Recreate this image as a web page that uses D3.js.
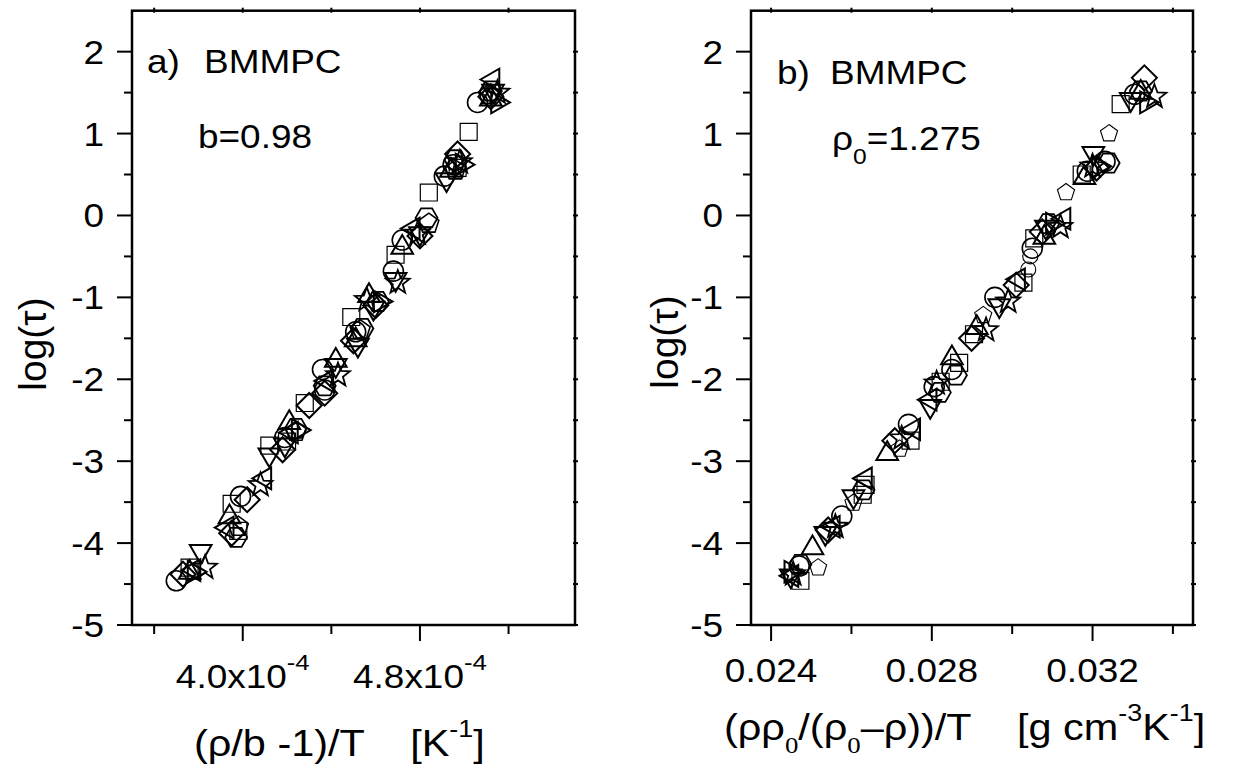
<!DOCTYPE html>
<html><head><meta charset="utf-8">
<script src="https://cdn.jsdelivr.net/npm/d3@7"></script>
<style>
body{margin:0;background:#fff}
svg{display:block}
text{font-family:"Liberation Sans",Arial,sans-serif;fill:#000;white-space:pre}
</style>
</head><body>
<svg id="c" width="1236" height="778"></svg>
<script>
// ---------- data ----------
const yMajor = [-5,-4,-3,-2,-1,0,1,2];
const yMinor = [-4.5,-3.5,-2.5,-1.5,-0.5,0.5,1.5];
const xMajorA = [4.0e-4, 4.8e-4];
const xMinorA = [3.6e-4, 4.4e-4, 5.2e-4];
const xLabelsA = ["4.0x10", "4.8x10"];
const xMajorB = [0.024, 0.028, 0.032];
const xMinorB = [0.026, 0.030, 0.034];
const xLabelsB = ["0.024", "0.028", "0.032"];

// panel a: x = (rho/b - 1)/T, y = log(tau)
const circleA   = [[3.70e-4,-4.46],[3.99e-4,-3.43],[4.19e-4,-2.71],[4.37e-4,-2.13],[4.36e-4,-1.88],[4.51e-4,-1.42],[4.68e-4,-0.68],[4.72e-4,-0.30],[4.91e-4,0.48],[4.95e-4,0.62],[5.06e-4,1.38]];
const squareA   = [[3.76e-4,-4.30],[3.95e-4,-3.52],[3.98e-4,-3.85],[4.12e-4,-2.81],[4.20e-4,-2.76],[4.28e-4,-2.29],[4.49e-4,-1.24],[4.69e-4,-0.48],[4.84e-4,0.28],[4.97e-4,0.58],[5.02e-4,1.02]];
const triUpA    = [[3.76e-4,-4.36],[3.94e-4,-3.68],[4.21e-4,-2.53],[4.42e-4,-1.77],[4.51e-4,-1.52],[4.57e-4,-0.98],[4.72e-4,-0.39],[4.94e-4,0.55],[5.12e-4,1.42]];
const triDownA  = [[3.81e-4,-4.10],[4.12e-4,-2.92],[4.19e-4,-2.80],[4.42e-4,-1.83],[4.52e-4,-1.58],[4.59e-4,-1.13],[4.69e-4,-0.78],[4.80e-4,-0.22],[4.92e-4,0.44],[5.13e-4,1.52]];
const diamondA  = [[3.73e-4,-4.38],[3.95e-4,-3.88],[4.02e-4,-3.47],[4.18e-4,-2.86],[4.30e-4,-2.32],[4.37e-4,-2.17],[4.50e-4,-1.53],[4.60e-4,-1.10],[4.80e-4,-0.25],[4.97e-4,0.75],[5.12e-4,1.45]];
const triLeftA  = [[3.78e-4,-4.33],[3.93e-4,-3.81],[4.10e-4,-3.21],[4.22e-4,-2.65],[4.38e-4,-2.02],[4.77e-4,-0.16],[5.13e-4,1.66]];
const triRightA = [[3.78e-4,-4.35],[4.25e-4,-2.62],[4.62e-4,-1.05],[4.99e-4,0.62],[5.15e-4,1.38]];
const pentagonA = [[3.98e-4,-3.80],[4.24e-4,-2.64],[4.53e-4,-1.40],[4.84e-4,-0.10],[4.96e-4,0.55],[5.11e-4,1.47]];
const hexagonA  = [[3.97e-4,-3.93],[4.24e-4,-2.60],[4.37e-4,-2.08],[4.54e-4,-1.38],[4.61e-4,-1.05],[4.83e-4,-0.03],[4.96e-4,0.68],[5.12e-4,1.52]];
const starA     = [[3.83e-4,-4.30],[4.08e-4,-3.29],[4.43e-4,-1.95],[4.56e-4,-1.03],[4.70e-4,-0.82],[4.79e-4,-0.22],[4.98e-4,0.65],[5.15e-4,1.50]];

// panel b: x = (rho rho0/(rho0-rho))/T, y = log(tau)
const circleB      = [[0.02470,-4.28],[0.02576,-3.67],[0.02742,-2.55],[0.02806,-2.09],[0.02850,-1.88],[0.02957,-1.00],[0.03050,-0.40],[0.03187,0.54],[0.03231,0.66],[0.03305,1.48]];
const smallCircleB = [[0.03040,-0.66],[0.03045,-0.50]];
const squareB      = [[0.02473,-4.46],[0.02635,-3.29],[0.02628,-3.41],[0.02747,-2.75],[0.02822,-2.03],[0.02868,-1.80],[0.02905,-1.45],[0.03028,-0.82],[0.03055,-0.28],[0.03173,0.50],[0.03270,1.36]];
const triUpB       = [[0.02503,-4.06],[0.02689,-2.91],[0.02850,-1.74],[0.02912,-1.37],[0.03080,-0.27],[0.03180,0.46],[0.03320,1.50]];
const triDownB     = [[0.02449,-4.40],[0.02535,-3.88],[0.02605,-3.43],[0.02796,-2.33],[0.02968,-1.10],[0.03084,-0.14],[0.03202,0.76],[0.03295,1.42]];
const diamondB     = [[0.02542,-3.84],[0.02708,-2.75],[0.02899,-1.50],[0.03010,-0.85],[0.03075,-0.20],[0.03210,0.58],[0.03329,1.68]];
const triLeftB     = [[0.02452,-4.40],[0.02555,-3.80],[0.02635,-3.21],[0.02755,-2.61],[0.02796,-2.25],[0.03016,-0.78],[0.03129,-0.04]];
const triRightB    = [[0.02449,-4.35],[0.03100,-0.10],[0.03215,0.60],[0.03334,1.38]];
const pentagonB    = [[0.02517,-4.30],[0.02605,-3.51],[0.02720,-2.85],[0.02928,-1.22],[0.03134,0.28],[0.03241,1.00]];
const hexagonB     = [[0.02473,-4.26],[0.02630,-3.35],[0.02820,-2.16],[0.02860,-1.95],[0.03090,-0.10],[0.03240,0.64],[0.03320,1.52]];
const starB        = [[0.02455,-4.38],[0.02560,-3.80],[0.02725,-2.72],[0.02812,-2.05],[0.02935,-1.40],[0.02990,-1.05],[0.03120,-0.14],[0.03200,0.60],[0.03354,1.45]];

// ---------- drawing ----------
const svg = d3.select("#c");
const SX = 1.12; // horizontal stretch of the lettering
const FS = 33;   // tick labels / annotations
const FT = 37;   // axis titles

const yTop = 10.7, yBottom = 625;
const y = d3.scaleLinear().domain([-5, 2.5]).range([yBottom, yTop]);
const xA = d3.scaleLinear().domain([3.5e-4, 5.5e-4]).range([132, 575]);
const xB = d3.scaleLinear().domain([0.0235, 0.0345]).range([751, 1193]);

function poly(n, R, a0) {
  const p = [];
  for (let i = 0; i < n; i++) {
    const a = a0 + i * 2 * Math.PI / n;
    p.push([R * Math.cos(a), R * Math.sin(a)]);
  }
  return "M" + p.map(q => q[0].toFixed(2) + "," + q[1].toFixed(2)).join("L") + "Z";
}
function starPath(Ro, Ri) {
  const p = [];
  for (let i = 0; i < 10; i++) {
    const a = -Math.PI / 2 + i * Math.PI / 5;
    const r = i % 2 ? Ri : Ro;
    p.push([r * Math.cos(a), r * Math.sin(a)]);
  }
  return "M" + p.map(q => q[0].toFixed(2) + "," + q[1].toFixed(2)).join("L") + "Z";
}
function circ(r) { return `M${r},0A${r},${r} 0 1,1 ${-r},0A${r},${r} 0 1,1 ${r},0Z`; }
const D = Math.PI / 180;
const shapes = {
  circle: circ(10),
  smallCircle: circ(7.5),
  square: poly(4, 12, 45 * D),
  triUp: poly(3, 12.5, -90 * D),
  triDown: poly(3, 12.5, 90 * D),
  triLeft: poly(3, 12.5, 180 * D),
  triRight: poly(3, 12.5, 0),
  diamond: poly(4, 12.5, -90 * D),
  pentagon: poly(5, 10.5, -90 * D),
  smallPentagon: poly(5, 9, -90 * D),
  hexagon: poly(6, 11, 0),
  star: starPath(12.5, 5.2)
};

function stext(parent, x, yy, anchor, size, build, rot) {
  const g = parent.append("g").attr("transform", `translate(${x},${yy})` + (rot ? ` rotate(${rot})` : ""));
  const t = g.append("text").attr("transform", `scale(${rot ? 1 : SX},1)`)
    .attr("text-anchor", anchor).attr("font-size", size);
  build(t);
  return t;
}

function panel(x, xMajor, xMinor, xLabels, supLabel, series, tickLabelBase) {
  const g = svg.append("g");
  const [x0, x1] = x.range();
  const tk = g.append("g").attr("stroke", "#000").attr("stroke-width", 2);
  yMajor.forEach(v => {
    tk.append("line").attr("x1", x0 - 15).attr("x2", x0).attr("y1", y(v)).attr("y2", y(v));
    tk.append("line").attr("x1", x1 - 2).attr("x2", x1 + 3).attr("y1", y(v)).attr("y2", y(v));
  });
  yMinor.forEach(v => {
    tk.append("line").attr("x1", x0 - 8).attr("x2", x0).attr("y1", y(v)).attr("y2", y(v));
    tk.append("line").attr("x1", x1 - 2).attr("x2", x1 + 3).attr("y1", y(v)).attr("y2", y(v));
  });
  xMajor.forEach(v => {
    tk.append("line").attr("x1", x(v)).attr("x2", x(v)).attr("y1", yBottom).attr("y2", yBottom + 16);
    tk.append("line").attr("x1", x(v)).attr("x2", x(v)).attr("y1", yTop - 3).attr("y2", yTop + 2);
  });
  xMinor.forEach(v => {
    tk.append("line").attr("x1", x(v)).attr("x2", x(v)).attr("y1", yBottom).attr("y2", yBottom + 9);
    tk.append("line").attr("x1", x(v)).attr("x2", x(v)).attr("y1", yTop - 3).attr("y2", yTop + 2);
  });
  g.append("rect").attr("x", x0).attr("y", yTop).attr("width", x1 - x0).attr("height", yBottom - yTop)
    .attr("fill", "none").attr("stroke", "#000").attr("stroke-width", 2.5);
  yMajor.forEach(v => {
    stext(g, x0 - 28, y(v) + 12, "end", FS, t => t.text(v < 0 ? "-" + Math.abs(v) : String(v)));
  });
  xMajor.forEach((v, i) => {
    stext(g, x(v), tickLabelBase, "middle", FS, t => {
      t.append("tspan").text(xLabels[i]);
      if (supLabel) t.append("tspan").attr("font-size", 23).attr("dy", -18).text(supLabel);
    });
  });
  const mk = g.append("g").attr("fill", "none").attr("stroke", "#000");
  series.forEach(s => {
    mk.selectAll(null).data(s.data).join("path")
      .attr("d", shapes[s.shape])
      .attr("stroke-width", s.sw)
      .attr("transform", d => `translate(${x(d[0])},${y(d[1])})`);
  });
  return g;
}

const seriesA = [
  {shape: "square", data: squareA, sw: 1.2},
  {shape: "pentagon", data: pentagonA, sw: 1.6},
  {shape: "hexagon", data: hexagonA, sw: 1.8},
  {shape: "circle", data: circleA, sw: 1.6},
  {shape: "triUp", data: triUpA, sw: 2},
  {shape: "triDown", data: triDownA, sw: 2},
  {shape: "diamond", data: diamondA, sw: 2},
  {shape: "triLeft", data: triLeftA, sw: 2},
  {shape: "triRight", data: triRightA, sw: 2},
  {shape: "star", data: starA, sw: 1.8}
];
const seriesB = [
  {shape: "square", data: squareB, sw: 1.2},
  {shape: "smallPentagon", data: pentagonB, sw: 1.1},
  {shape: "smallCircle", data: smallCircleB, sw: 1.1},
  {shape: "hexagon", data: hexagonB, sw: 1.8},
  {shape: "circle", data: circleB, sw: 1.6},
  {shape: "triUp", data: triUpB, sw: 2},
  {shape: "triDown", data: triDownB, sw: 2},
  {shape: "diamond", data: diamondB, sw: 2},
  {shape: "triLeft", data: triLeftB, sw: 2},
  {shape: "triRight", data: triRightB, sw: 2},
  {shape: "star", data: starB, sw: 1.8}
];

panel(xA, xMajorA, xMinorA, xLabelsA, "-4", seriesA, 688);
panel(xB, xMajorB, xMinorB, xLabelsB, null, seriesB, 682);

stext(svg, 46, 344, "middle", 39, t => t.text("log(τ)"), -90);
stext(svg, 678, 342, "middle", 39, t => t.text("log(τ)"), -90);

stext(svg, 194, 756, "start", FT, t => {
  t.append("tspan").text("(ρ/b -1)/T    [K");
  t.append("tspan").attr("font-size", 24).attr("dy", -19).text("-1");
  t.append("tspan").attr("dy", 19).text("]");
});
stext(svg, 724, 740, "start", FT, t => {
  t.append("tspan").text("(ρρ");
  t.append("tspan").attr("font-size", 24).attr("font-family", "Liberation Serif, serif").attr("dy", 13).text("0");
  t.append("tspan").attr("dy", -13).text("/(ρ");
  t.append("tspan").attr("font-size", 24).attr("font-family", "Liberation Serif, serif").attr("dy", 13).text("0");
  t.append("tspan").attr("dy", -13).text("–ρ))/T    [g cm");
  t.append("tspan").attr("font-size", 24).attr("dy", -19).text("-3");
  t.append("tspan").attr("dy", 19).text("K");
  t.append("tspan").attr("font-size", 24).attr("dy", -19).text("-1");
  t.append("tspan").attr("dy", 19).text("]");
});

stext(svg, 147, 73, "start", FS, t => t.text("a)"));
stext(svg, 204, 73, "start", FS, t => t.text("BMMPC"));
stext(svg, 198, 148, "start", FS, t => t.text("b=0.98"));
stext(svg, 777, 84, "start", FS, t => t.text("b)"));
stext(svg, 830, 84, "start", FS, t => t.text("BMMPC"));
stext(svg, 832, 150, "start", FS, t => {
  t.append("tspan").text("ρ");
  t.append("tspan").attr("font-size", 22).attr("dy", 14).text("0");
  t.append("tspan").attr("dy", -14).text("=1.275");
});
</script>
</body></html>
